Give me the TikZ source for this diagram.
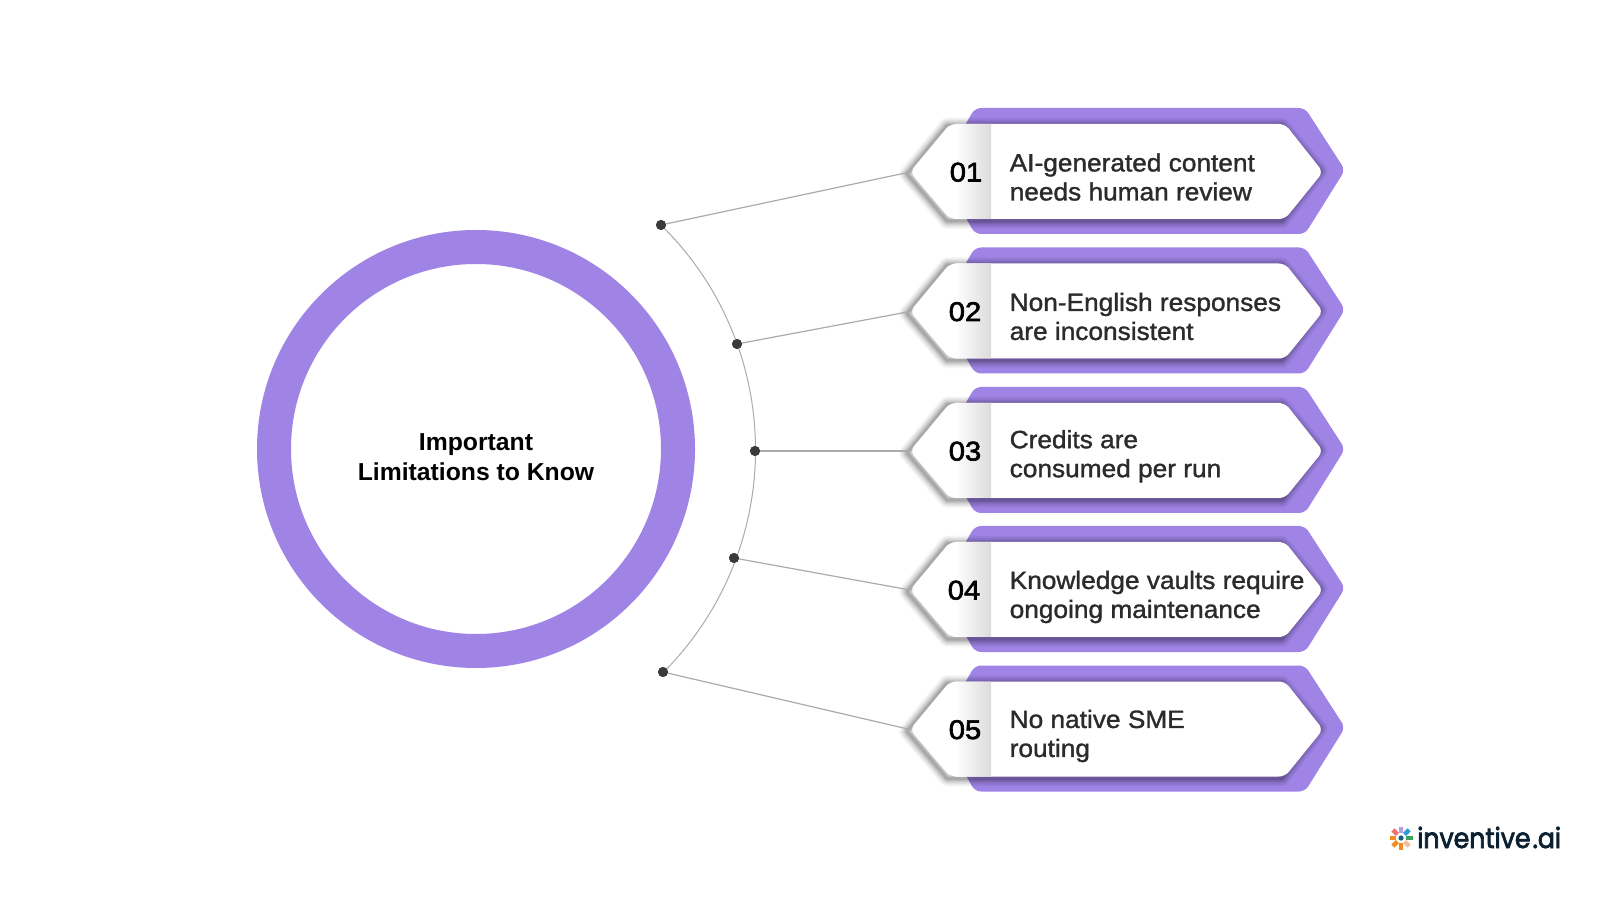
\documentclass[tikz,border=0pt]{standalone}
\usepackage{fontspec}
\setmainfont{Liberation Sans}
\newfontfamily\bodyf[FakeBold=1.3,FakeStretch=1.05]{Liberation Sans}
\newfontfamily\numf[FakeBold=2.4,FakeStretch=1.08]{Liberation Sans}
\newfontfamily\titlef[FakeStretch=1.01]{Liberation Sans Bold}
\newfontfamily\logof[FakeBold=2.6,FakeStretch=0.9]{Poppins}
\usetikzlibrary{calc}
\definecolor{ringpurple}{HTML}{9F84E6}
\definecolor{dotdark}{HTML}{3A3A3A}
\definecolor{linegray}{HTML}{ABABAB}
\definecolor{textdark}{HTML}{2B2B2B}
\definecolor{logonavy}{HTML}{0B2030}
\definecolor{lgcoral}{HTML}{F0706A}
\definecolor{lgblue}{HTML}{2F9BD6}
\definecolor{lggreen}{HTML}{3AA35A}
\definecolor{lgpeach}{HTML}{F2C09F}
\definecolor{lgorange}{HTML}{F58A1F}
\definecolor{lgpurple}{HTML}{B39CE8}
\definecolor{lgteal}{HTML}{14607A}
\tikzset{
  x=1pt,y=1pt,
  ring/.style={draw=ringpurple,line width=34pt,fill=white,circle,minimum size=404pt,inner sep=0pt},
  dotnode/.style={circle,fill=dotdark,minimum size=10pt,inner sep=0pt},
  link/.style={draw=linegray,line width=1.2pt},
  titletext/.style={font=\titlef\fontsize{24.5}{30}\selectfont,align=center,text=black},
  itemtext/.style={font=\bodyf\fontsize{25}{29}\selectfont,align=left,anchor=west,text=textdark,inner sep=0pt},
  numtext/.style={font=\numf\fontsize{27}{30}\selectfont,anchor=base,text=black,inner sep=0pt},
}
\begin{document}
\begin{tikzpicture}
\useasboundingbox (0,0) rectangle (1600,900);
\fill[white] (0,0) rectangle (1600,900);

% centre ring
\node[ring] (hub) at (476,451) {};
\node[titletext] (hubtext) at (476,443) {Important\\Limitations to Know};

% dots
\node[dotnode] (d1) at (661,675) {};
\node[dotnode] (d2) at (737,556) {};
\node[dotnode] (d3) at (755,449) {};
\node[dotnode] (d4) at (734,342) {};
\node[dotnode] (d5) at (663,228) {};

% items
\foreach \yc/\num/\numx/\la/\lb/\dy in {
  728/01/966/AI-generated content/needs human review/-5,
  588.5/02/965/Non-English responses/are inconsistent/-5,
  449/03/965/Credits are/consumed per run/-5.2,
  310/04/964/Knowledge vaults require/ongoing maintenance/-7,
  170.5/05/965/No native SME/routing/-6.5}{
  \begin{scope}[shift={(0,\yc)}]
    % purple back plate
    \fill[ringpurple,rounded corners=6pt]
      (975,64) -- (1305,64) -- (1345,2) -- (1305,-62) -- (975,-62) -- (939,2) -- cycle;
    % soft shadow
    \foreach \w/\op in {16/0.025,14/0.03,12/0.035,10/0.04,8/0.05,6/0.06,4/0.07,2.5/0.08}{
      \draw[black,opacity=\op,line width=\w pt,line join=round]
        (947,46.5) -- (1282,46.5) -- (1320,1) -- (1282,-49) -- (947,-49) -- (907,-2) -- cycle;
    }
    % white plate
    \fill[white,rounded corners=6pt]
      (950,48) -- (1285,48) -- (1323,0) -- (1285,-47) -- (950,-47) -- (910,0) -- cycle;
    \begin{scope}
      \clip[rounded corners=6pt]
        (950,48) -- (1285,48) -- (1323,0) -- (1285,-47) -- (950,-47) -- (910,0) -- cycle;
      \shade[left color=white,right color=black!14] (955,-50) rectangle (991,50);
    \end{scope}
    \coordinate (tip\num) at (910,0);
    \node[numtext] at (\numx,-9.5) {\num};
    \node[itemtext] (t\num) at (1009.5,\dy) {\la\\\lb};
  \end{scope}
}

% connectors
\draw[link] (d1) -- (tip01);
\draw[link] (d2) -- (tip02);
\draw[link] (d3) -- (tip03);
\draw[link] (d4) -- (tip04);
\draw[link] (d5) -- (tip05);
\draw[draw=linegray,line width=1pt] (d1.center) arc[start angle=45.6,end angle=-45,radius=314.7pt];
\node[dotnode] at (d1) {};
\node[dotnode] at (d2) {};
\node[dotnode] at (d3) {};
\node[dotnode] at (d4) {};
\node[dotnode] at (d5) {};

% logo
\node[inner sep=0pt,anchor=base west,text=logonavy,font=\logof\fontsize{28}{30}\selectfont] (logo) at (1417,52) {inventive\hspace{2pt}.ai};
\begin{scope}[shift={(1401,62)}]
  \fill[lgteal] (0,0) circle (2.6);
  \foreach \ang/\col in {0/lgpurple,-45/lgblue,-90/lggreen,-135/lgpeach,-180/lgorange,-225/lgorange,-270/lgorange,-315/lgcoral}{
    \fill[\col,rotate=\ang] (-2.2,5) rectangle (2.2,11.5);
  }
\end{scope}
\end{tikzpicture}
\end{document}
